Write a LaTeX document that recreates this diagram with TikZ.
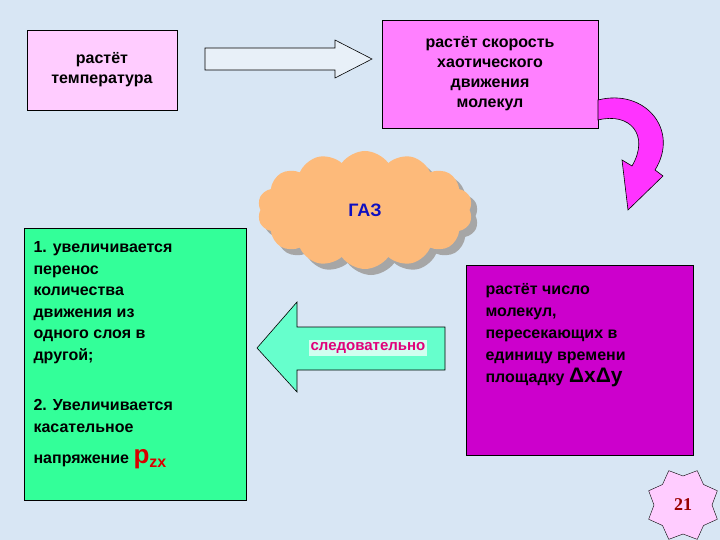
\documentclass[tikz,border=0pt]{standalone}
\usepackage{fontspec}
\setmainfont{Liberation Sans}
\newfontfamily\serifnum{Liberation Serif}
\usetikzlibrary{shapes.symbols,shapes.geometric,shapes.arrows}
\definecolor{bg}{HTML}{D8E6F4}
\definecolor{pinkA}{HTML}{FFCCFF}
\definecolor{magA}{HTML}{FF80FF}
\definecolor{magB}{HTML}{FF33FF}
\definecolor{cloudc}{HTML}{FDBA7A}
\definecolor{greenA}{HTML}{33FF99}
\definecolor{purA}{HTML}{CC00CC}
\definecolor{mint}{HTML}{66FFCC}
\definecolor{gazblue}{HTML}{1010C0}
\definecolor{numred}{HTML}{990000}
\tikzset{
 boxed/.style={draw=black, line width=0.6pt, font=\fontsize{16}{20}\selectfont\bfseries, align=center},
 btxt/.style={anchor=north west, font=\fontsize{16}{21.5}\selectfont\bfseries, align=left},
}
\begin{document}
\begin{tikzpicture}[x=1pt,y=-1pt]
\fill[bg] (0,0) rectangle (720,540);
\useasboundingbox (0,0) rectangle (720,540);
% boxes
\node[boxed, fill=pinkA, minimum width=150pt, minimum height=80pt] (b1) at (102,70) {растёт\\температура};
\node[boxed, fill=magA, minimum width=216pt, minimum height=108pt] (b2) at (490,74) {растёт скорость\\хаотического\\движения\\молекул};
% right arrow
\draw[line width=0.6pt, fill=bg!60!white] (205,48) -- (335,48) -- (335,40) -- (372,59) -- (335,78) -- (335,70) -- (205,70) -- cycle;
% curved arrow
\draw[line width=0.6pt, fill=magB] (598,100) .. controls (645,88) and (680,130) .. (655,170)
 -- (663,176) -- (628,210) -- (622,160) -- (632,166)
 .. controls (650,135) and (630,112) .. (598,120) -- cycle;
% cloud
\node[cloud, cloud puffs=14, cloud puff arc=110, aspect=1.6, fill=gray!70, minimum width=215pt, minimum height=118pt] at (371,216) {};
\node[cloud, cloud puffs=14, cloud puff arc=110, aspect=1.6, fill=cloudc, minimum width=215pt, minimum height=118pt, text=gazblue, font=\fontsize{18}{20}\selectfont\bfseries] (gas) at (365,210) {ГАЗ};
% green box
\node[boxed, fill=greenA, minimum width=222pt, minimum height=272pt] (g) at (135,364) {};
\node[btxt] (gt) at (30,238) {1. увеличивается\\перенос\\количества\\движения из\\одного слоя в\\другой;};
\node[btxt] (gt2) at (30,396) {2. Увеличивается\\касательное};
\node[btxt] (gt3) at (30,446) {напряжение {\color{red!85!black}\fontsize{26}{26}\selectfont p\raisebox{-4pt}{\fontsize{16}{16}\selectfont zx}}};
% left arrow
\draw[line width=0.6pt, fill=mint] (445,327) -- (297,327) -- (297,302) -- (257,348) -- (297,392) -- (297,370) -- (445,370) -- cycle;
\node[fill=white!70!mint, font=\fontsize{15}{18}\selectfont\bfseries, text=red!40!purA, inner sep=2pt] (sl) at (368,348) {следовательно};
% purple box
\node[boxed, fill=purA, minimum width=227pt, minimum height=190pt] (p) at (580,360) {};
\node[btxt, font=\fontsize{16}{22}\selectfont\bfseries] (pt) at (482,280) {растёт число\\молекул,\\пересекающих в\\единицу времени\\площадку {\fontsize{21}{21}\selectfont ΔxΔy}};
% star
\node[star, star points=8, star point ratio=0.78, draw=black, fill=pinkA, minimum size=58pt, font=\serifnum\fontsize{18}{18}\selectfont\bfseries, text=numred, inner sep=0pt] (st) at (683,505) {21};
\end{tikzpicture}
\end{document}
